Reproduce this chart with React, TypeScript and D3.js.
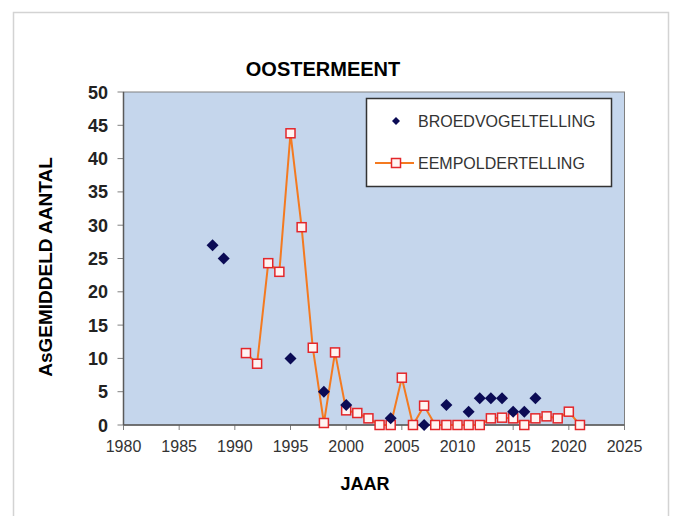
import React from "react";
import * as d3 from "d3";

const title = "OOSTERMEENT";
const xLabel = "JAAR";
const yLabel = "AsGEMIDDELD AANTAL";
const xTicks = [1980, 1985, 1990, 1995, 2000, 2005, 2010, 2015, 2020, 2025];
const yTicks = [0, 5, 10, 15, 20, 25, 30, 35, 40, 45, 50];

const broedYears = [1988, 1989, 1995, 1998, 2000, 2004, 2007, 2009, 2011, 2012, 2013, 2014, 2015, 2016, 2017];
const broedValues = [27, 25, 10, 5, 3, 1, 0, 3, 2, 4, 4, 4, 2, 2, 4];

const eemYears = [1991, 1992, 1993, 1994, 1995, 1996, 1997, 1998, 1999, 2000, 2001, 2002, 2003, 2004, 2005, 2006, 2007, 2008, 2009, 2010, 2011, 2012, 2013, 2014, 2015, 2016, 2017, 2018, 2019, 2020, 2021];
const eemValues = [10.8, 9.2, 24.3, 23.0, 43.8, 29.7, 11.6, 0.3, 10.9, 2.2, 1.8, 1.0, 0, 0, 7.1, 0, 2.9, 0, 0, 0, 0, 0, 1.0, 1.1, 1.0, 0, 1.0, 1.3, 1.0, 2.0, 0];

const seriesNames = ["BROEDVOGELTELLING", "EEMPOLDERTELLING"];

const FONT = "'Liberation Sans', Arial, sans-serif";

export default function App() {
  const W = 673, H = 516;
  const left = 123.5, right = 624.5, top = 92, bottom = 425;
  const x = d3.scaleLinear().domain([1980, 2025]).range([left, right]);
  const y = d3.scaleLinear().domain([0, 50]).range([bottom, top]);

  const eemData = eemYears.map((yr, i) => [yr, eemValues[i]] as [number, number]);
  const line = d3.line<[number, number]>().x(d => x(d[0])).y(d => y(d[1]));

  const diamond = (cx: number, cy: number, r: number) =>
    `M${cx},${cy - r}L${cx + r},${cy}L${cx},${cy + r}L${cx - r},${cy}Z`;

  const lineColor = "#F47A20";
  const sqStroke = "#E3262A";
  const sqFill = "#FFF4F2";
  const dColor = "#0B0B55";
  const sq = 9;

  return (
    <svg width={W} height={H} style={{ position: "absolute", left: 0, top: 0 }} xmlns="http://www.w3.org/2000/svg">
      <rect x={0} y={0} width={W} height={H} fill="#fff" />
      <rect x={13.5} y={12.5} width={655} height={520} fill="#fff" stroke="#D3D3D3" strokeWidth={1.5} />
      <text x={323} y={76} textAnchor="middle" fontFamily={FONT} fontWeight="bold" fontSize={20} fill="#000">{title}</text>

      <rect x={left} y={top} width={right - left} height={bottom - top} fill="#C5D6EC" stroke="#808080" strokeWidth={1} />

      {yTicks.map(t => (
        <g key={"y" + t}>
          <line x1={left - 6} x2={left} y1={y(t)} y2={y(t)} stroke="#808080" />
          <text x={108} y={y(t) + 6.5} textAnchor="end" fontFamily={FONT} fontWeight="bold" fontSize={18} fill="#222">{t}</text>
        </g>
      ))}
      {xTicks.map(t => (
        <g key={"x" + t}>
          <line x1={x(t)} x2={x(t)} y1={bottom} y2={bottom + 5} stroke="#808080" />
          <text x={x(t)} y={bottom + 27} textAnchor="middle" fontFamily={FONT} fontSize={16} fill="#333">{t}</text>
        </g>
      ))}
      <line x1={left} x2={right} y1={bottom} y2={bottom} stroke="#5A5A5A" strokeWidth={1.5} />
      <line x1={left} x2={left} y1={top} y2={bottom} stroke="#5A5A5A" strokeWidth={1.5} />

      <text x={365} y={490} textAnchor="middle" fontFamily={FONT} fontWeight="bold" fontSize={18} fill="#000">{xLabel}</text>
      <text transform={`translate(52,267) rotate(-90)`} textAnchor="middle" fontFamily={FONT} fontWeight="bold" fontSize={19} fill="#000">{yLabel}</text>

      <path d={line(eemData) || ""} fill="none" stroke={lineColor} strokeWidth={2} />
      {eemData.map((d, i) => (
        <rect key={"e" + i} x={x(d[0]) - sq / 2} y={y(d[1]) - sq / 2} width={sq} height={sq} fill={sqFill} stroke={sqStroke} strokeWidth={1.5} />
      ))}
      {broedYears.map((yr, i) => (
        <path key={"b" + i} d={diamond(x(yr), y(broedValues[i]), 6)} fill={dColor} />
      ))}

      <rect x={366.5} y={98.5} width={245} height={88} fill="#fff" stroke="#333" strokeWidth={1.5} />
      <path d={diamond(396, 121, 4)} fill={dColor} />
      <text x={418} y={127} fontFamily={FONT} fontSize={16} fill="#333">{seriesNames[0]}</text>
      <line x1={375} x2={414} y1={163} y2={163} stroke={lineColor} strokeWidth={2} />
      <rect x={396 - sq / 2} y={163 - sq / 2} width={sq} height={sq} fill={sqFill} stroke={sqStroke} strokeWidth={1.5} />
      <text x={418} y={169} fontFamily={FONT} fontSize={16} fill="#333">{seriesNames[1]}</text>
    </svg>
  );
}
